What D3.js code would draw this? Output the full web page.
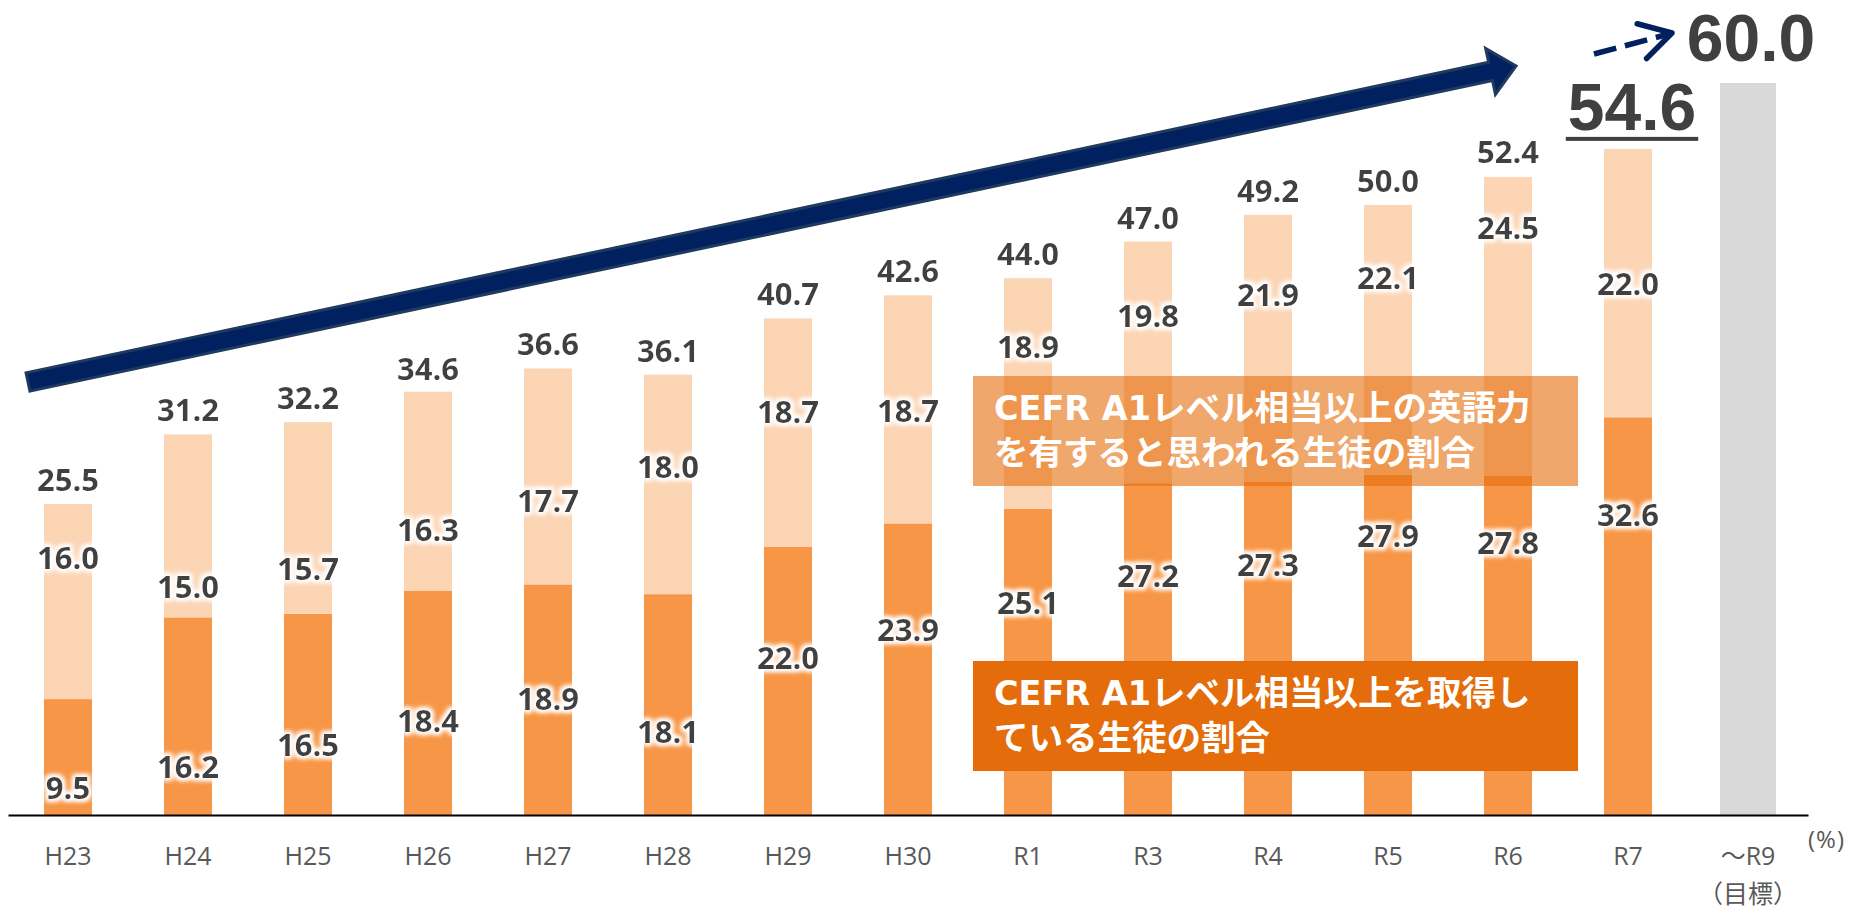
<!DOCTYPE html>
<html>
<head>
<meta charset="utf-8">
<script src="https://cdn.jsdelivr.net/npm/d3@7"></script>
<style>
  body { margin: 0; background: #fff; }
  svg { display: block; }
</style>
</head>
<body>
<svg id="chart" width="1852" height="912"></svg>
<script>
"use strict";

var years = ["H23", "H24", "H25", "H26", "H27", "H28", "H29", "H30", "R1", "R3", "R4", "R5", "R6", "R7", "～R9"];
// CEFR A1 level acquired (%)
var acquired = [9.5, 16.2, 16.5, 18.4, 18.9, 18.1, 22.0, 23.9, 25.1, 27.2, 27.3, 27.9, 27.8, 32.6];
// judged to have A1-level ability (%)
var capable = [16.0, 15.0, 15.7, 16.3, 17.7, 18.0, 18.7, 18.7, 18.9, 19.8, 21.9, 22.1, 24.5, 22.0];
var totals = [25.5, 31.2, 32.2, 34.6, 36.6, 36.1, 40.7, 42.6, 44.0, 47.0, 49.2, 50.0, 52.4, 54.6];
var target = 60.0;

// label heights (in % units) as they were moved by hand in the original
var acquiredLabelAt = [2.2, 3.9, 5.7, 7.7, 9.5, 6.8, 12.9, 15.2, 17.4, 19.6, 20.5, 22.9, 22.3, 24.6];
var capableLabelAt = [21.1, 18.7, 20.2, 23.4, 25.7, 28.5, 33.0, 33.1, 38.4, 40.9, 42.6, 44.0, 48.1, 43.5];

var colAcquired = "#F79646";
var colCapable = "#FCD5B5";
var colTarget = "#D9D9D9";
var colText = "#404040";
var colNavy = "#002060";
var numFont = "'Open Sans', 'Noto Sans', sans-serif";
var bigFont = "'Liberation Sans', Arial, sans-serif";
var jpFont = "'Noto Sans CJK JP', sans-serif";

var svg = d3.select("#chart");

var x = d3.scaleBand().domain(years).range([8, 1808]).paddingInner(0.6).paddingOuter(0.3);
var y = d3.scaleLinear().domain([0, 60]).range([815, 83]);

// white glow behind the labels
var defs = svg.append("defs");
var halo = defs.append("filter").attr("id", "halo")
  .attr("x", "-30%").attr("y", "-50%").attr("width", "160%").attr("height", "200%");
halo.append("feMorphology").attr("in", "SourceAlpha").attr("operator", "dilate").attr("radius", 2).attr("result", "d");
halo.append("feGaussianBlur").attr("in", "d").attr("stdDeviation", 2.5).attr("result", "b");
halo.append("feFlood").attr("flood-color", "#fff");
halo.append("feComposite").attr("in2", "b").attr("operator", "in").attr("result", "g");
var merge = halo.append("feMerge");
merge.append("feMergeNode").attr("in", "g");
merge.append("feMergeNode").attr("in", "g");
merge.append("feMergeNode").attr("in", "SourceGraphic");

var rows = acquired.map(function (v, i) {
  return { year: years[i], acquired: v, capable: capable[i] };
});
var stacked = d3.stack().keys(["acquired", "capable"])(rows);
var fills = { acquired: colAcquired, capable: colCapable };

svg.append("g").selectAll("g")
  .data(stacked)
  .enter().append("g")
  .attr("fill", function (s) { return fills[s.key]; })
  .selectAll("rect")
  .data(function (s) { return s; })
  .enter().append("rect")
  .attr("x", function (d) { return x(d.data.year); })
  .attr("width", x.bandwidth())
  .attr("y", function (d) { return y(d[1]); })
  .attr("height", function (d) { return y(d[0]) - y(d[1]); });

// target bar, a bit wider than the others
var tw = 56;
svg.append("rect")
  .attr("x", x("～R9") + x.bandwidth() / 2 - tw / 2)
  .attr("width", tw)
  .attr("y", y(target))
  .attr("height", y(0) - y(target))
  .attr("fill", colTarget);

// legend boxes
var box1 = svg.append("g");
box1.append("rect")
  .attr("x", 973).attr("y", 376).attr("width", 605).attr("height", 110)
  .attr("fill", "#E46C0A").attr("opacity", 0.6);
var box2 = svg.append("g");
box2.append("rect")
  .attr("x", 973).attr("y", 661).attr("width", 605).attr("height", 110)
  .attr("fill", "#E46C0A");

function boxLine(g, latin, rest, yy) {
  var t = g.append("text")
    .attr("x", 994).attr("y", yy)
    .style("font-family", jpFont)
    .style("font-weight", 700)
    .style("font-size", "34.5px")
    .attr("fill", "#fff");
  if (latin) {
    t.append("tspan").text(latin)
      .style("font-family", "'DejaVu Sans', sans-serif")
      .style("font-size", "33.5px");
  }
  t.append("tspan").text(rest);
}
boxLine(box1, "CEFR A1", "レベル相当以上の英語力", 420);
boxLine(box1, null, "を有すると思われる生徒の割合", 465);
boxLine(box2, "CEFR A1", "レベル相当以上を取得し", 705);
boxLine(box2, null, "ている生徒の割合", 750);

// axis
var xAxis = d3.axisBottom(x).tickSize(0).tickPadding(32);
var axisG = svg.append("g").attr("transform", "translate(0," + y(0) + ")").call(xAxis);
axisG.select(".domain").attr("stroke", "#000").attr("stroke-width", 2);
axisG.selectAll(".tick text")
  .attr("fill", "#595959")
  .style("font-family", numFont + ", " + jpFont)
  .style("font-size", "25px");
axisG.append("text")
  .attr("x", x("～R9") + x.bandwidth() / 2)
  .attr("y", 88)
  .attr("text-anchor", "middle")
  .attr("fill", "#595959")
  .style("font-family", jpFont)
  .style("font-size", "25px")
  .text("（目標）");
svg.append("text")
  .attr("x", 1808).attr("y", 848)
  .attr("fill", "#595959")
  .style("font-family", numFont)
  .style("font-size", "24px")
  .style("letter-spacing", "1px")
  .text("(%)");

// value labels
var labels = svg.append("g")
  .attr("text-anchor", "middle")
  .attr("fill", colText)
  .style("font-family", numFont)
  .style("font-weight", 700)
  .style("font-size", "31px")
  .attr("filter", "url(#halo)");

function cx(i) { return x(years[i]) + x.bandwidth() / 2; }

labels.selectAll("text.acq")
  .data(acquired)
  .enter().append("text")
  .attr("class", "acq")
  .attr("x", function (d, i) { return cx(i); })
  .attr("y", function (d, i) { return y(acquiredLabelAt[i]) + 11; })
  .text(function (d) { return d.toFixed(1); });

labels.selectAll("text.cap")
  .data(capable)
  .enter().append("text")
  .attr("class", "cap")
  .attr("x", function (d, i) { return cx(i); })
  .attr("y", function (d, i) { return y(capableLabelAt[i]) + 11; })
  .text(function (d) { return d.toFixed(1); });

var last = totals.length - 1;
labels.selectAll("text.tot")
  .data(totals.slice(0, last))
  .enter().append("text")
  .attr("class", "tot")
  .attr("x", function (d, i) { return cx(i); })
  .attr("y", function (d) { return y(d) - 13; })
  .text(function (d) { return d.toFixed(1); });

// big labels: latest value (underlined) and the target
var bigLatest = svg.append("text")
  .attr("x", cx(last) + 4)
  .attr("y", y(totals[last]) - 19)
  .attr("text-anchor", "middle")
  .attr("fill", colText)
  .style("font-family", bigFont)
  .style("font-weight", 700)
  .style("font-size", "66px")
  .text(totals[last].toFixed(1));
var bb = bigLatest.node().getBBox();
svg.append("rect")
  .attr("x", bb.x - 2).attr("width", bb.width + 4)
  .attr("y", y(totals[last]) - 12).attr("height", 4)
  .attr("fill", colText);

svg.append("text")
  .attr("x", x("～R9") + x.bandwidth() / 2 + 3)
  .attr("y", y(target) - 22)
  .attr("text-anchor", "middle")
  .attr("fill", colText)
  .style("font-family", bigFont)
  .style("font-weight", 700)
  .style("font-size", "66px")
  .text(target.toFixed(1));

// trend arrow
function arrowPoints(p0, p1, hw, hh, hl) {
  var dx = p1[0] - p0[0], dy = p1[1] - p0[1];
  var len = Math.hypot(dx, dy);
  var ux = dx / len, uy = dy / len, nx = -uy, ny = ux;
  var bx = p1[0] - ux * hl, by = p1[1] - uy * hl;
  return [
    [p0[0] + nx * hw, p0[1] + ny * hw],
    [bx + nx * hw, by + ny * hw],
    [bx + nx * hh, by + ny * hh],
    p1,
    [bx - nx * hh, by - ny * hh],
    [bx - nx * hw, by - ny * hw],
    [p0[0] - nx * hw, p0[1] - ny * hw]
  ];
}
svg.append("polygon")
  .attr("points", arrowPoints([28, 382], [1516, 66], 9.3, 23.5, 26).map(function (p) { return p.join(","); }).join(" "))
  .attr("fill", colNavy)
  .attr("stroke", "#1F3A5F")
  .attr("stroke-width", 3)
  .attr("stroke-linejoin", "miter");

// dashed arrow towards the target
var tip = [1672, 33];
svg.append("line")
  .attr("x1", 1594).attr("y1", 54).attr("x2", tip[0] - 3).attr("y2", tip[1] + 1)
  .attr("stroke", colNavy).attr("stroke-width", 5.5)
  .attr("stroke-dasharray", "23 9");
var ang = Math.atan2(54 - tip[1], 1594 - tip[0]);
var arm = 36;
var a1 = ang + Math.PI / 6, a2 = ang - Math.PI / 6;
svg.append("path")
  .attr("d", "M" + (tip[0] + arm * Math.cos(a1)) + "," + (tip[1] + arm * Math.sin(a1)) +
    "L" + tip[0] + "," + tip[1] +
    "L" + (tip[0] + arm * Math.cos(a2)) + "," + (tip[1] + arm * Math.sin(a2)))
  .attr("fill", "none")
  .attr("stroke", colNavy).attr("stroke-width", 5.5)
  .attr("stroke-linecap", "round").attr("stroke-linejoin", "round");
</script>
</body>
</html>
